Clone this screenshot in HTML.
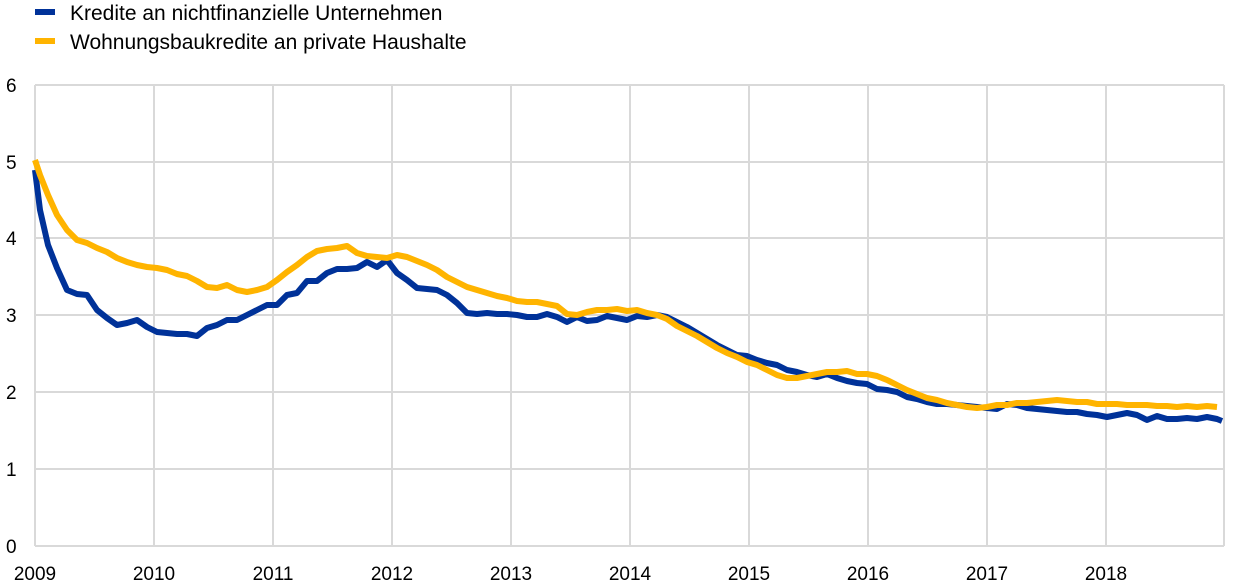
<!DOCTYPE html>
<html><head><meta charset="utf-8"><style>
body{margin:0;background:#fff;}
svg{display:block;font-family:"Liberation Sans",Arial,sans-serif;}
</style></head><body>
<svg width="1240" height="588" viewBox="0 0 1240 588" xmlns="http://www.w3.org/2000/svg">
<g stroke="#d9d9d9" stroke-width="2" fill="none">
<line x1="35" y1="85" x2="1224" y2="85"/>
<line x1="35" y1="162" x2="1224" y2="162"/>
<line x1="35" y1="238" x2="1224" y2="238"/>
<line x1="35" y1="315" x2="1224" y2="315"/>
<line x1="35" y1="392" x2="1224" y2="392"/>
<line x1="35" y1="469" x2="1224" y2="469"/>
<line x1="35" y1="546" x2="1224" y2="546"/>
<line x1="35" y1="85" x2="35" y2="546"/>
<line x1="154" y1="85" x2="154" y2="546"/>
<line x1="273" y1="85" x2="273" y2="546"/>
<line x1="392" y1="85" x2="392" y2="546"/>
<line x1="511" y1="85" x2="511" y2="546"/>
<line x1="630" y1="85" x2="630" y2="546"/>
<line x1="749" y1="85" x2="749" y2="546"/>
<line x1="868" y1="85" x2="868" y2="546"/>
<line x1="987" y1="85" x2="987" y2="546"/>
<line x1="1106" y1="85" x2="1106" y2="546"/>
<line x1="1224" y1="85" x2="1224" y2="546"/>
</g>
<g font-size="19" fill="#000">
<text x="6" y="92">6</text><text x="6" y="169">5</text><text x="6" y="245">4</text><text x="6" y="322">3</text><text x="6" y="399">2</text><text x="6" y="476">1</text><text x="6" y="553">0</text>
<g text-anchor="middle">
<text x="35" y="580">2009</text><text x="154" y="580">2010</text><text x="273" y="580">2011</text><text x="392" y="580">2012</text><text x="511" y="580">2013</text><text x="630" y="580">2014</text><text x="749" y="580">2015</text><text x="868" y="580">2016</text><text x="987" y="580">2017</text><text x="1106" y="580">2018</text>
</g>
<text x="70" y="20" font-size="21">Kredite an nichtfinanzielle Unternehmen</text>
<text x="70" y="49" font-size="21">Wohnungsbaukredite an private Haushalte</text>
</g>
<rect x="35" y="9" width="20" height="6" fill="#003299"/>
<rect x="35" y="38" width="20" height="6" fill="#FFB400"/>
<polyline fill="none" stroke="#003299" stroke-width="6" stroke-linejoin="round" points="35,170 40,210 48,245 57,268 67,290 77,294 87,295 97,310 107,318 117,325 127,323 137,320 147,327 157,332 167,333 177,334 187,334 197,336 207,328 217,325 227,320 237,320 247,315 257,310 267,305 277,305 287,295 297,293 307,281 317,281 327,273 337,269 347,269 357,268 367,262 377,267 387,260 397,273 407,280 417,288 427,289 437,290 447,295 457,303 467,313 477,314 487,313 497,314 507,314 517,315 527,317 537,317 547,314 557,317 567,322 577,317 587,321 597,320 607,316 617,318 627,320 637,316 647,317 657,315 667,317 677,322 687,327 697,333 707,339 717,345 727,350 737,355 747,356 757,360 767,363 777,365 787,370 797,372 807,375 817,377 827,374 837,378 847,381 857,383 867,384 877,389 887,390 897,392 907,397 917,399 927,402 937,404 947,404 957,405 967,406 977,407 987,408 997,409 1007,404 1017,405 1027,408 1037,409 1047,410 1057,411 1067,412 1077,412 1087,414 1097,415 1107,417 1117,415 1127,413 1137,415 1147,420 1157,416 1167,419 1177,419 1187,418 1197,419 1207,417 1217,419 1222,421"/>
<polyline fill="none" stroke="#FFB400" stroke-width="6" stroke-linejoin="round" points="35,160 40,175 48,195 57,215 67,230 77,240 87,243 97,248 107,252 117,258 127,262 137,265 147,267 157,268 167,270 177,274 187,276 197,281 207,287 217,288 227,285 237,290 247,292 257,290 267,287 277,280 287,272 297,265 307,257 317,251 327,249 337,248 347,246 357,253 367,256 377,257 387,258 397,255 407,257 417,261 427,265 437,270 447,277 457,282 467,287 477,290 487,293 497,296 507,298 517,301 527,302 537,302 547,304 557,306 567,314 577,315 587,312 597,310 607,310 617,309 627,311 637,310 647,313 657,315 667,319 677,326 687,331 697,336 707,342 717,348 727,353 737,357 747,362 757,365 767,370 777,375 787,378 797,378 807,376 817,374 827,372 837,372 847,371 857,374 867,374 877,376 887,380 897,385 907,390 917,394 927,398 937,400 947,403 957,405 967,407 977,408 987,407 997,405 1007,405 1017,403 1027,403 1037,402 1047,401 1057,400 1067,401 1077,402 1087,402 1097,404 1107,404 1117,404 1127,405 1137,405 1147,405 1157,406 1167,406 1177,407 1187,406 1197,407 1207,406 1217,407"/>
</svg>
</body></html>
